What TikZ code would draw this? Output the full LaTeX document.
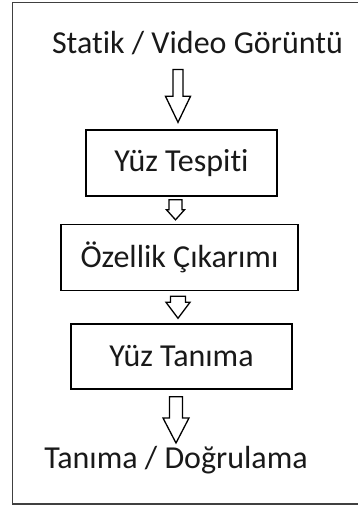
\documentclass[tikz,border=0pt]{standalone}
\usepackage{fontspec}
\setmainfont{Carlito}[Ligatures=NoCommon]
\usetikzlibrary{calc}

\tikzset{
  stage/.style={draw=black, line width=1.4pt, fill=white, inner sep=0pt,
    font=\fontsize{32}{37}\selectfont, text=black!90},
  label/.style={inner sep=0pt, font=\fontsize{32}{37}\selectfont, text=black!90},
  hollow/.style={draw=black, line width=1.3pt, fill=white, line join=miter},
  frame/.style={draw=black!75, line width=1.8pt}
}

% Hollow block arrow pointing down.
% #1 start point, #2 end point, #3 x offset from end point,
% #4 gap below start, #5 gap above end, #6 half shaft width,
% #7 half head width, #8 head length
\newcommand{\hollowarrow}[8]{%
  \path[hollow] let \p1=(#1), \p2=(#2) in
    ({\x2+#3-#6},{\y1-#4}) -- ({\x2+#3+#6},{\y1-#4})
    -- ({\x2+#3+#6},{\y2+#5+#8}) -- ({\x2+#3+#7},{\y2+#5+#8})
    -- ({\x2+#3},{\y2+#5}) -- ({\x2+#3-#7},{\y2+#5+#8})
    -- ({\x2+#3-#6},{\y2+#5+#8}) -- cycle;}

\begin{document}
\begin{tikzpicture}[x=1pt,y=-1pt]
  \useasboundingbox (0,0) rectangle (358,508);

  % outer frame (right side runs past the page edge)
  \draw[frame] (372,2.5) -- (12.5,2.5) -- (12.5,504) -- (372,504);

  \node[label, anchor=base] (src) at (197.5,53.5) {Statik / Video Görüntü};

  \node[stage, minimum width=191pt, minimum height=66pt] (det) at (181.5,163) {Yüz Tespiti};
  \node[stage, minimum width=237pt, minimum height=66pt] (feat) at (179.5,257.5) {Özellik Çıkarımı};
  \node[stage, minimum width=221pt, minimum height=65pt] (rec) at (181.5,356.5) {Yüz Tanıma};

  \node[label, anchor=base] (res) at (176,468) {Tanıma / Doğrulama};

  \hollowarrow{src.base}{det.north}{-3.5pt}{16pt}{7pt}{5pt}{12.5pt}{26pt}
  \hollowarrow{det.south}{feat.north}{-4pt}{3pt}{4pt}{6.5pt}{9pt}{10pt}
  \hollowarrow{feat.south}{rec.north}{-3.5pt}{5pt}{5pt}{7.5pt}{12pt}{16pt}
  \hollowarrow{rec.south}{res.base}{-0pt}{7pt}{25pt}{6.5pt}{13pt}{25pt}
\end{tikzpicture}
\end{document}
